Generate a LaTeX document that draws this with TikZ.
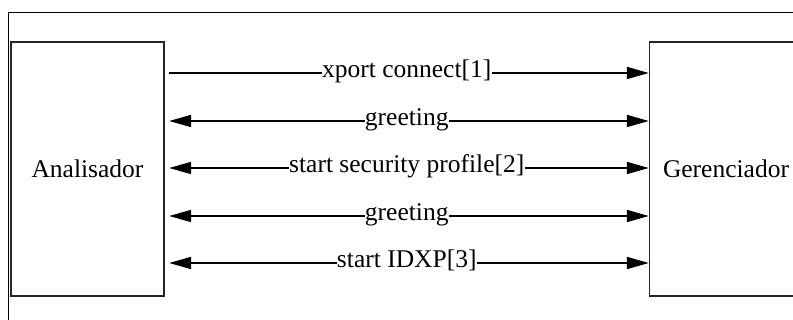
\documentclass[tikz,border=0pt]{standalone}
\usepackage{fontspec}
\setmainfont{Liberation Serif}
\usetikzlibrary{arrows.meta}

\tikzset{
  every node/.style={font=\fontsize{25.5}{30}\selectfont},
  party/.style={draw=black!85, line width=1.3pt, minimum width=153pt, minimum height=254pt, inner sep=0pt},
  msg/.style={line width=1.8pt, draw=black},
  head/.style={-{Triangle[length=22pt,width=12pt]}},
  heads/.style={{Triangle[length=22pt,width=12pt]}-{Triangle[length=22pt,width=12pt]}},
  tag/.style={midway, yshift=-2pt, fill=white, inner xsep=0.3pt, inner ysep=0pt, text height=0.69em, text depth=0.22em}
}

\begin{document}
\begin{tikzpicture}[x=1pt, y=-1pt]
  \useasboundingbox (0,0) rectangle (793,320);
  \clip (0,0) rectangle (793,320);

  % outer frame, running past the right and bottom edges
  \draw[line width=1pt] (8.3,12.3) rectangle (830,360);

  % the two parties
  \node[party] (A) at (87.5,169) {Analisador};
  \node[party] (G) at (726,169) {Gerenciador};

  % message rows
  \coordinate (r1) at (0,73);
  \coordinate (r2) at (0,121);
  \coordinate (r3) at (0,168);
  \coordinate (r4) at (0,216);
  \coordinate (r5) at (0,263);

  \draw[msg, head, shorten <=4pt] (A.east |- r1) -- (G.west |- r1) node[tag] {xport connect[1]};
  \draw[msg, heads, shorten <=4.5pt] (A.east |- r2) -- (G.west |- r2) node[tag] {greeting};
  \draw[msg, heads, shorten <=4.5pt] (A.east |- r3) -- (G.west |- r3) node[tag] {start security profile[2]};
  \draw[msg, heads, shorten <=4.5pt] (A.east |- r4) -- (G.west |- r4) node[tag] {greeting};
  \draw[msg, heads, shorten <=4.5pt] (A.east |- r5) -- (G.west |- r5) node[tag] {start IDXP[3]};
\end{tikzpicture}
\end{document}
